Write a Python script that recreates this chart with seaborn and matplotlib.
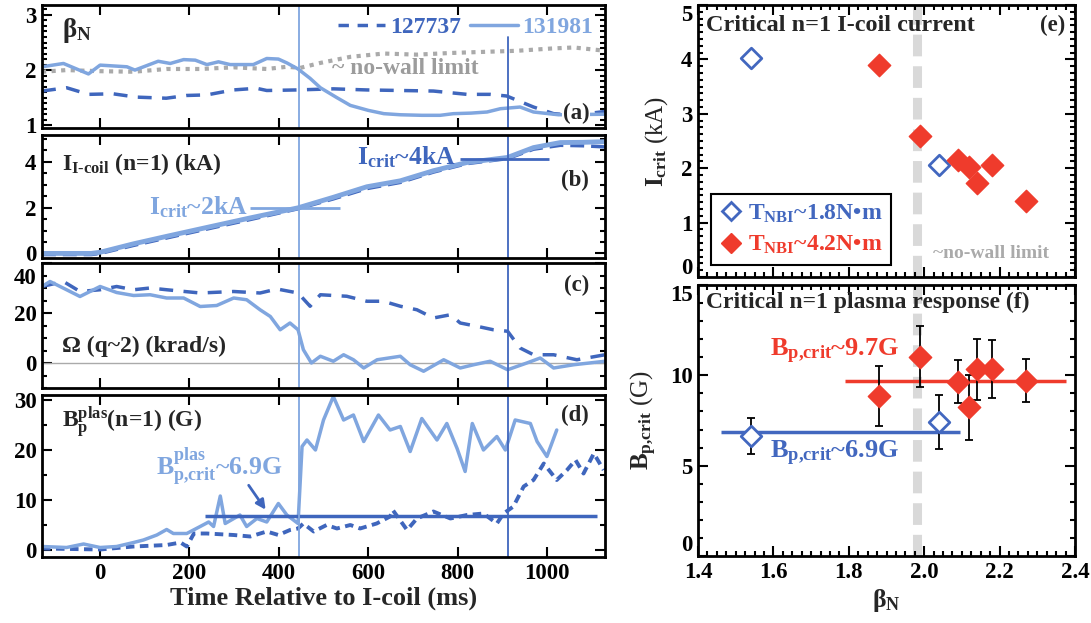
import numpy as np
import pandas as pd
import matplotlib
matplotlib.use("Agg")
import matplotlib.pyplot as plt
from matplotlib.ticker import MultipleLocator, FormatStrFormatter
from matplotlib.transforms import ScaledTranslation
from matplotlib.lines import Line2D
import seaborn as sns

# ---------------- data ----------------
# (a) beta_N
t_a_131981 = [-130, -82, -26, 0, 60, 78, 130, 157, 187, 213, 239, 265, 291, 343, 373, 399, 418, 443,
              470, 493, 530, 560, 600, 635, 672, 720, 761, 791, 830, 866, 896, 940, 970, 1026, 1130]
beta_131981 = [2.06, 2.12, 1.93, 2.09, 2.06, 2.0, 2.16, 2.12, 2.19, 2.18, 2.1, 2.15, 2.1, 2.1, 2.21, 2.2, 2.13, 2.02,
               1.85, 1.68, 1.5, 1.36, 1.27, 1.21, 1.19, 1.18, 1.18, 1.21, 1.22, 1.24, 1.3, 1.33, 1.24, 1.19, 1.2]
t_a_127737 = [-130, -75, -26, 29, 81, 148, 194, 239, 298, 350, 373, 440, 522, 597, 672, 746, 821, 873, 910,
              970, 1015, 1060, 1130]
beta_127737 = [1.62, 1.68, 1.56, 1.57, 1.51, 1.49, 1.54, 1.55, 1.64, 1.67, 1.63, 1.64, 1.66, 1.64, 1.63, 1.62,
               1.56, 1.56, 1.53, 1.33, 1.21, 1.18, 1.25]
t_nowall = [-130, -75, 0, 75, 149, 224, 299, 373, 418, 448, 493, 560, 635, 709, 784, 858, 933, 1008, 1060, 1119, 1130]
beta_nowall = [1.97, 2.0, 1.98, 1.97, 2.02, 2.02, 2.05, 2.02, 2.06, 2.04, 2.13, 2.24, 2.3, 2.28, 2.31, 2.33,
               2.35, 2.39, 2.41, 2.36, 2.35]

# (b) I-coil current
t_b = [-130, -20, 0, 75, 150, 224, 336, 443, 522, 597, 672, 746, 821, 912, 970, 1030, 1080, 1130]
icoil_131981 = [0.0, 0.0, 0.05, 0.42, 0.75, 1.07, 1.55, 1.99, 2.45, 2.91, 3.17, 3.61, 3.97, 4.19, 4.62, 4.84, 4.85, 4.88]
icoil_127737 = [-0.05, -0.05, 0.0, 0.35, 0.68, 1.0, 1.48, 1.95, 2.38, 2.83, 3.1, 3.55, 3.92, 4.14, 4.55, 4.72, 4.7, 4.65]
icrit_levels = [2.0, 4.14]
icrit_spans = [(336, 537), (806, 1004)]

# (c) rotation at q~2
t_c_131981 = [-130, -112, -75, -45, 0, 37, 75, 112, 149, 187, 224, 261, 299, 328, 358, 381, 403, 425, 443, 455,
              473, 493, 522, 545, 567, 590, 620, 672, 694, 724, 769, 806, 836, 873, 912, 955, 985, 1015, 1060, 1130]
om_131981 = [30.6, 32.6, 29.3, 26.6, 30.6, 28.2, 27, 27.3, 26, 26, 22.6, 23, 26, 25.3, 21.3, 18.6, 13.3, 16, 13.3, 5.3,
             0, 2.7, 0.7, 3.3, 1.3, -2, 1.3, 2.7, -0.7, -3.3, 1.3, -2, -0.7, 0.7, -2.7, 0, 2, -2, -0.7, 0.7]
t_c_127737 = [-130, -82, -45, 0, 37, 75, 112, 149, 224, 299, 358, 396, 443, 470, 493, 552, 597, 634, 672, 709,
              746, 784, 806, 843, 880, 912, 940, 970, 1015, 1067, 1130]
om_127737 = [30.6, 32.6, 28.6, 29.3, 30.6, 29.3, 30, 29.3, 28, 28.6, 28, 29.6, 28, 22.7, 27.3, 26.7, 24.7, 24.7,
             22.7, 21.3, 18, 19.3, 16, 14.7, 13.3, 12.7, 6, 3.3, 3.3, 1.3, 3.3]

# (d) plasma response
t_d_131981 = [-130, -75, -37, 0, 37, 75, 97, 127, 149, 164, 194, 224, 243, 254, 269, 280, 313, 328, 351, 373,
              399, 418, 443, 452, 463, 482, 500, 522, 545, 567, 590, 623, 649, 672, 694, 720, 754, 776, 799, 817,
              833, 858, 888, 907, 929, 963, 978, 1000, 1022]
bp_131981 = [0.7, 0.5, 1.2, 0.5, 0.7, 1.5, 2.0, 3.0, 4.1, 3.3, 3.3, 4.7, 5.6, 4.7, 10.8, 5.3, 7, 4.7, 6.3, 5.6,
             9.3, 7, 5.3, 20.7, 22, 20, 26, 30.7, 26, 27, 21.7, 27, 24, 24.7, 19.7, 26.3, 22, 25.3, 20.3, 15.7,
             25.3, 20, 22.7, 20, 26, 25.3, 21.7, 18.7, 24]
t_d_127737 = [-130, 0, 75, 149, 180, 194, 210, 239, 299, 336, 373, 399, 425, 443, 455, 478, 507, 530, 560, 582,
              619, 649, 655, 687, 709, 746, 784, 821, 858, 888, 903, 925, 948, 970, 993, 1022, 1045, 1064, 1082,
              1105, 1127]
bp_127737 = [0.3, 0.1, 0.7, 1.0, 1.5, 0.7, 3.3, 3.3, 3.0, 2.7, 3.7, 3.0, 4.0, 4.3, 5.3, 3.7, 5.0, 4.3, 5.0, 4.3,
             5.3, 6.7, 8.0, 4.0, 6.3, 7.7, 6.3, 7.0, 7.3, 5.3, 7.3, 8.7, 12.7, 14, 17.3, 14, 16, 18, 15.3, 19.3, 16]
bpcrit_level_d = 6.85
bpcrit_span_d = (235, 1113)

t_marks = [445, 912]

# (e)/(f) scan
beta_low = [1.54, 2.04]
icrit_low = [4.03, 2.06]
beta_high = [1.88, 1.99, 2.09, 2.12, 2.14, 2.18, 2.27]
icrit_high = [3.9, 2.6, 2.15, 2.02, 1.73, 2.06, 1.4]
bpc_low = [6.64, 7.43]
bpc_low_err = [1.0, 1.5]
bpc_high = [8.85, 11.03, 9.65, 8.23, 10.33, 10.33, 9.7]
bpc_high_err = [1.65, 1.7, 1.2, 1.8, 1.7, 1.6, 1.2]
mean_high, span_high = 9.7, (1.79, 2.375)
mean_low, span_low = 6.85, (1.46, 2.095)
nowall_beta = 1.98

# ---------------- style ----------------
sns.set_theme(style="ticks")
plt.rcParams['font.family'] = ['Liberation Serif', 'DejaVu Serif']
plt.rcParams['font.weight'] = 'bold'
plt.rcParams['mathtext.fontset'] = 'custom'
plt.rcParams['mathtext.rm'] = 'Liberation Serif:bold'
plt.rcParams['mathtext.it'] = 'Liberation Serif:bold'
plt.rcParams['mathtext.bf'] = 'Liberation Serif:bold'
plt.rcParams['mathtext.default'] = 'rm'

DARK = '#3f66bd'
LIGHT = '#80a6df'
BLUE = '#4267bf'
RED = '#ef3b2c'
GRAYDOT = '#aaaaaa'
GRAYV = '#d9d9d9'
FS = 16.5

W, H = 1091, 623
fig = plt.figure(figsize=(W / 100, H / 100), dpi=100)


def rect(x0, x1, y0, y1):
    return [x0 / W, 1 - y1 / H, (x1 - x0) / W, (y1 - y0) / H]


def style(ax, ymaj, ymin, xmaj=None, xmin=None):
    if xmaj:
        ax.xaxis.set_major_locator(MultipleLocator(xmaj))
    if xmin:
        ax.xaxis.set_minor_locator(MultipleLocator(xmin))
    ax.yaxis.set_major_locator(MultipleLocator(ymaj))
    ax.yaxis.set_minor_locator(MultipleLocator(ymin))
    ax.tick_params(which='both', direction='in', top=True, right=True, width=1.5,
                   labelsize=FS, colors='black', pad=4)
    ax.tick_params(which='major', length=7)
    ax.tick_params(which='minor', length=3.5)
    for sp in ax.spines.values():
        sp.set_linewidth(2)
        sp.set_color('black')
    ax.set_xlabel('')
    ax.set_ylabel('')


def line(ax, x, y, color, lw, dashes=None, z=2):
    sns.lineplot(x=x, y=y, ax=ax, color=color, lw=lw, estimator=None, sort=False, legend=False, zorder=z)
    if dashes is not None:
        ax.lines[-1].set_dashes(dashes)


axa = fig.add_axes(rect(42, 605, 5, 128))
axb = fig.add_axes(rect(42, 605, 135, 258))
axc = fig.add_axes(rect(42, 605, 263, 388))
axd = fig.add_axes(rect(42, 605, 395, 557))
axe = fig.add_axes(rect(698, 1075, 5, 277))
axf = fig.add_axes(rect(698, 1075, 285, 556))

XL = (-130, 1130)

# (a)
line(axa, t_nowall, beta_nowall, GRAYDOT, 3, dashes=(1, 1.3))
line(axa, t_a_127737, beta_127737, DARK, 2.5, dashes=(4, 3))
line(axa, t_a_131981, beta_131981, LIGHT, 2.5)
axa.set_xlim(XL)
axa.set_ylim(0.95, 3.18)
axa.axvline(t_marks[0], color=LIGHT, lw=1.3)
axa.axvline(t_marks[1], ymin=0, ymax=0.74, color=DARK, lw=1.3)
style(axa, 1, 0.1, 200)
axa.set_xticklabels([])
axa.text(0.036, 0.79, r'$β_{N}$', transform=axa.transAxes, fontsize=FS + 3, ha='left', va='center')
axa.text(520, 2.03, '~ no-wall limit', color='#9c9c9c', fontsize=FS + 0.5, ha='left', va='center')
axa.text(0.972, 0.12, '(a)', transform=axa.transAxes, fontsize=FS, ha='right', va='center',
         bbox=dict(facecolor='white', edgecolor='none', pad=0.5))
h = [Line2D([], [], color=DARK, lw=2.5, dashes=(3, 2.5)), Line2D([], [], color=LIGHT, lw=2.5)]
axa.legend(h, ['127737', '131981'], ncol=2, loc='upper right', frameon=False,
           handlelength=2.0, handletextpad=0.2, columnspacing=0.4, borderaxespad=0.1,
           labelcolor=[DARK, LIGHT], prop={'weight': 'bold', 'size': FS + 0.5})

# (b)
line(axb, t_b, icoil_127737, DARK, 2.5, dashes=(4, 2))
line(axb, t_b, icoil_131981, LIGHT, 3.5)
axb.hlines(icrit_levels[0], *icrit_spans[0], color=LIGHT, lw=2)
axb.hlines(icrit_levels[1], *icrit_spans[1], color=DARK, lw=2)
axb.set_xlim(XL)
axb.set_ylim(-0.2, 5.17)
for t, c in zip(t_marks, [LIGHT, DARK]):
    axb.axvline(t, color=c, lw=1.3)
style(axb, 2, 0.5, 200)
axb.set_xticklabels([])
axb.text(0.036, 0.76, r'$I_{I‐coil}$ (n=1) (kA)', transform=axb.transAxes, fontsize=FS + 0.5, ha='left', va='center')
axb.text(330, 2.0, r'$I_{crit}$~2kA', color=LIGHT, fontsize=FS + 2, ha='right', va='center')
axb.text(795, 4.2, r'$I_{crit}$~4kA', color=DARK, fontsize=FS + 2, ha='right', va='center')
axb.text(0.972, 0.63, '(b)', transform=axb.transAxes, fontsize=FS, ha='right', va='center')

# (c)
axc.axhline(0, color='#aaaaaa', lw=1)
line(axc, t_c_127737, om_127737, DARK, 2.5, dashes=(4, 3))
line(axc, t_c_131981, om_131981, LIGHT, 2.5)
axc.set_xlim(XL)
axc.set_ylim(-10, 40)
for t, c in zip(t_marks, [LIGHT, DARK]):
    axc.axvline(t, color=c, lw=1.3)
style(axc, 20, 5, 200)
axc.set_xticklabels([])
axc.text(0.036, 0.33, 'Ω (q~2) (krad/s)', transform=axc.transAxes, fontsize=FS + 0.5, ha='left', va='center')
axc.text(0.972, 0.82, '(c)', transform=axc.transAxes, fontsize=FS, ha='right', va='center')

# (d)
line(axd, t_d_127737, bp_127737, DARK, 2.8, dashes=(2.2, 1.4))
line(axd, t_d_131981, bp_131981, LIGHT, 2.5)
axd.hlines(bpcrit_level_d, *bpcrit_span_d, color=DARK, lw=2.5)
axd.set_xlim(XL)
axd.set_ylim(-1.4, 31)
for t, c in zip(t_marks, [LIGHT, DARK]):
    axd.axvline(t, color=c, lw=1.3)
style(axd, 10, 5, 200)
axd.set_xlabel('Time Relative to I-coil (ms)', fontsize=19, fontweight='bold', labelpad=2)
axd.text(0.036, 0.83, r'$B_{p}^{plas}$(n=1) (G)', transform=axd.transAxes, fontsize=FS + 0.5, ha='left', va='center')
axd.text(125, 16.6, r'$B_{p{,}crit}^{plas}$~6.9G', color=LIGHT, fontsize=FS + 2, ha='left', va='center')
axd.annotate('', xy=(374, 7.6), xytext=(329, 13.4),
             arrowprops=dict(arrowstyle='-|>', color=DARK, lw=2, mutation_scale=14))
axd.text(0.972, 0.875, '(d)', transform=axd.transAxes, fontsize=FS, ha='right', va='center')

# (e)
axe.axvline(nowall_beta, color=GRAYV, lw=6.5, dashes=(2.4, 1.1), zorder=0)
de_low = pd.DataFrame({'beta': beta_low, 'icrit': icrit_low})
de_high = pd.DataFrame({'beta': beta_high, 'icrit': icrit_high})
sns.scatterplot(data=de_low, x='beta', y='icrit', ax=axe, marker='D', s=110, facecolor='white',
                edgecolor=BLUE, linewidth=2, zorder=3)
sns.scatterplot(data=de_high, x='beta', y='icrit', ax=axe, marker='D', s=130, color=RED,
                edgecolor=RED, linewidth=1, zorder=3)
axe.set_xlim(1.4, 2.4)
axe.set_ylim(0, 5)
style(axe, 1, 0.125, 0.2, 0.025)
axe.set_xticklabels([])
axe.set_ylabel(r'$I_{crit}$ (kA)', fontsize=FS + 1.5, labelpad=8)
axe.text(0.02, 0.923, 'Critical n=1 I-coil current', transform=axe.transAxes, fontsize=17.5, ha='left', va='center')
axe.text(0.975, 0.923, '(e)', transform=axe.transAxes, fontsize=FS, ha='right', va='center')
axe.text(0.623, 0.088, '~no-wall limit', transform=axe.transAxes, fontsize=14, color='#aaaaaa',
         ha='left', va='center')
hh = [Line2D([], [], marker='D', ls='none', mfc='white', mec=BLUE, mew=2, ms=9),
      Line2D([], [], marker='D', ls='none', mfc=RED, mec=RED, ms=10)]
leg = axe.legend(hh, [r'$T_{NBI}$~1.8N•m', r'$T_{NBI}$~4.2N•m'], loc='lower left',
                 bbox_to_anchor=(0.035, 0.045), fancybox=False, framealpha=1, edgecolor='black',
                 labelcolor=[BLUE, RED], handletextpad=0.2, borderpad=0.35, handlelength=1.0,
                 labelspacing=0.4, borderaxespad=0, prop={'weight': 'bold', 'size': FS + 0.5})
leg.get_frame().set_linewidth(1.5)

# (f)
axf.axvline(nowall_beta, color=GRAYV, lw=6.5, dashes=(2.4, 1.1), zorder=0)
axf.hlines(mean_high, *span_high, color=RED, lw=2.5, zorder=1)
axf.hlines(mean_low, *span_low, color=BLUE, lw=2.5, zorder=1)
axf.errorbar(beta_low, bpc_low, yerr=bpc_low_err, fmt='none', ecolor='black', elinewidth=1.3, capsize=3,
             capthick=1.3, zorder=2)
axf.errorbar(beta_high, bpc_high, yerr=bpc_high_err, fmt='none', ecolor='black', elinewidth=1.3, capsize=3,
             capthick=1.3, zorder=2)
df_low = pd.DataFrame({'beta': beta_low, 'bp': bpc_low})
df_high = pd.DataFrame({'beta': beta_high, 'bp': bpc_high})
sns.scatterplot(data=df_low, x='beta', y='bp', ax=axf, marker='D', s=110, facecolor='white',
                edgecolor=BLUE, linewidth=2, zorder=3)
sns.scatterplot(data=df_high, x='beta', y='bp', ax=axf, marker='D', s=130, color=RED,
                edgecolor=RED, linewidth=1, zorder=3)
axf.set_xlim(1.4, 2.4)
axf.set_ylim(0, 15)
style(axf, 5, 1, 0.2, 0.025)
axf.xaxis.set_major_formatter(FormatStrFormatter('%.1f'))
axf.set_xlabel(r'$β_{N}$', fontsize=FS + 2, labelpad=3)
axf.set_ylabel(r'$B_{p{,}crit}$ (G)', fontsize=FS + 1.5, labelpad=8)
axf.text(0.02, 0.934, 'Critical n=1 plasma response (f)', transform=axf.transAxes, fontsize=17,
         ha='left', va='center')
axf.text(1.591, 11.3, r'$B_{p{,}crit}$~9.7G', color=RED, fontsize=FS + 2.5, ha='left', va='center')
axf.text(1.591, 5.7, r'$B_{p{,}crit}$~6.9G', color=BLUE, fontsize=FS + 2.5, ha='left', va='center')

fig.canvas.draw()


def adjust_label(ax, value, va, dy_px=0):
    for tk, loc in zip(ax.yaxis.get_major_ticks(), ax.get_yticks()):
        if abs(loc - value) < 1e-6:
            tk.label1.set_va(va)
            if dy_px:
                tk.label1.set_transform(tk.label1.get_transform() +
                                        ScaledTranslation(0, dy_px / 100, fig.dpi_scale_trans))


adjust_label(axc, 40, 'top', -5)
adjust_label(axf, 15, 'top', 0)
adjust_label(axe, 5, 'top', 0)
adjust_label(axe, 0, 'bottom', -2)
adjust_label(axf, 0, 'bottom', 0)

for ax in (axa, axb, axc, axd, axe, axf):
    for lab in ax.get_xticklabels() + ax.get_yticklabels():
        lab.set_fontweight('bold')

fig.savefig('out.png', dpi=100)
